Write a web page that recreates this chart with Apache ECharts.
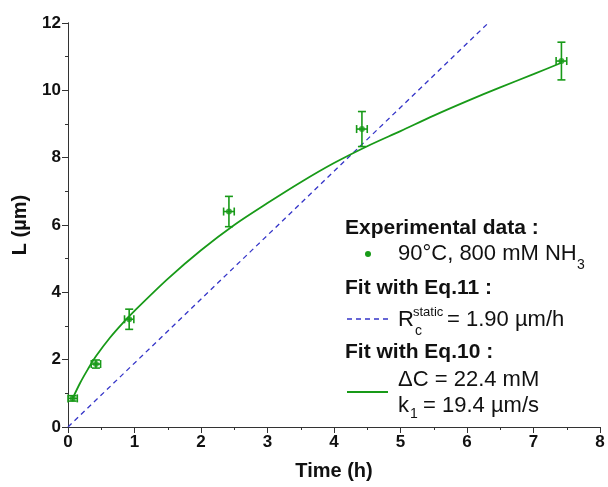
<!DOCTYPE html>
<html>
<head>
<meta charset="utf-8">
<script src="https://cdn.jsdelivr.net/npm/echarts@6/dist/echarts.min.js"></script>
<style>
  html, body { margin: 0; padding: 0; background: #fff; }
  #chart { width: 608px; height: 487px; }
</style>
</head>
<body>
<div id="chart"></div>
<script>
// measured points: time (h), length (um), y error, x error
var expTime = [0.07, 0.42, 0.92, 2.42, 4.42, 7.42];
var expL = [0.85, 1.87, 3.2, 6.4, 8.85, 10.87];
var expErrY = [0.08, 0.12, 0.3, 0.45, 0.52, 0.56];
var expErrX = [0.07, 0.07, 0.07, 0.08, 0.08, 0.08];

// Eq.11 fit (straight line)
var linTime = [0, 6.32];
var linL = [0, 12];

// Eq.10 fit curve
var fitTime = [0.07, 0.18, 0.3, 0.42, 0.63, 0.83, 1.0, 1.5, 2.0, 2.5, 3.0, 3.5, 4.0, 4.5, 5.0, 5.5, 6.0, 6.5, 7.0, 7.42];
var fitL = [0.85, 1.3, 1.72, 2.1, 2.65, 3.1, 3.45, 4.4, 5.25, 6.0, 6.65, 7.27, 7.84, 8.34, 8.79, 9.25, 9.68, 10.09, 10.48, 10.82];

var green = '#189a18';
var blue = '#3535c8';
var font = 'Liberation Sans, Arial, sans-serif';

function pairs(xs, ys) {
  var out = [];
  for (var i = 0; i < xs.length; i++) out.push([xs[i], ys[i]]);
  return out;
}

var errData = [];
for (var i = 0; i < expTime.length; i++) {
  errData.push([expTime[i], expL[i], expErrY[i], expErrX[i]]);
}

// legend text helper (x = left edge, y = vertical centre)
function label(x, y, text, size, bold) {
  return {
    type: 'text', x: x, y: y,
    style: {
      text: text, fontFamily: font, fontSize: size || 22,
      fontWeight: bold ? 'bold' : 'normal', fill: '#111',
      verticalAlign: 'middle'
    }
  };
}

var myChart = echarts.init(document.getElementById('chart'));

var axisLine = { show: true, lineStyle: { color: '#333', width: 1 } };

myChart.setOption({
  animation: false,
  grid: { left: 68, right: 8, top: 23, bottom: 60 },
  xAxis: [{
    type: 'value', min: 0, max: 8, interval: 1,
    name: 'Time (h)', nameLocation: 'middle', nameGap: 34,
    nameTextStyle: { fontFamily: font, fontWeight: 'bold', fontSize: 20, color: '#111' },
    axisLine: axisLine,
    axisTick: { length: 6, lineStyle: { color: '#333' } },
    minorTick: { show: true, splitNumber: 2, length: 3, lineStyle: { color: '#333' } },
    axisLabel: { fontFamily: font, fontWeight: 'bold', fontSize: 17, color: '#111', margin: 7 },
    splitLine: { show: false }
  }, {
    type: 'value', min: 0, max: 8, interval: 1, position: 'top',
    axisLine: axisLine,
    axisTick: { inside: true, length: 6, lineStyle: { color: '#333' } },
    minorTick: { show: true, splitNumber: 2, length: 3, lineStyle: { color: '#333' } },
    axisLabel: { show: false },
    splitLine: { show: false }
  }],
  yAxis: [{
    type: 'value', min: 0, max: 12, interval: 2,
    name: 'L (µm)', nameLocation: 'middle', nameGap: 38,
    nameTextStyle: { fontFamily: font, fontWeight: 'bold', fontSize: 20, color: '#111' },
    axisLine: axisLine,
    axisTick: { length: 6, lineStyle: { color: '#333' } },
    minorTick: { show: true, splitNumber: 2, length: 3, lineStyle: { color: '#333' } },
    axisLabel: { fontFamily: font, fontWeight: 'bold', fontSize: 17, color: '#111', margin: 7 },
    splitLine: { show: false }
  }, {
    type: 'value', min: 0, max: 12, interval: 2, position: 'right',
    axisLine: axisLine,
    axisTick: { inside: true, length: 6, lineStyle: { color: '#333' } },
    minorTick: { show: true, splitNumber: 2, length: 3, lineStyle: { color: '#333' } },
    axisLabel: { show: false },
    splitLine: { show: false }
  }],
  series: [{
    name: 'Eq.11',
    type: 'line',
    data: pairs(linTime, linL),
    showSymbol: false,
    lineStyle: { color: blue, width: 1.3, type: [5, 4] },
    z: 2
  }, {
    name: 'Eq.10',
    type: 'line',
    data: pairs(fitTime, fitL),
    smooth: 0.3,
    showSymbol: false,
    lineStyle: { color: green, width: 1.8 },
    z: 3
  }, {
    name: 'errors',
    type: 'custom',
    data: errData,
    z: 4,
    renderItem: function (params, api) {
      var x = api.value(0), y = api.value(1), ey = api.value(2), ex = api.value(3);
      var top = api.coord([x, y + ey]);
      var bot = api.coord([x, y - ey]);
      var lft = api.coord([x - ex, y]);
      var rgt = api.coord([x + ex, y]);
      var st = { stroke: green, lineWidth: 1.6 };
      var c = 4;
      return {
        type: 'group',
        children: [
          { type: 'line', shape: { x1: top[0], y1: top[1], x2: bot[0], y2: bot[1] }, style: st },
          { type: 'line', shape: { x1: top[0] - c, y1: top[1], x2: top[0] + c, y2: top[1] }, style: st },
          { type: 'line', shape: { x1: bot[0] - c, y1: bot[1], x2: bot[0] + c, y2: bot[1] }, style: st },
          { type: 'line', shape: { x1: lft[0], y1: lft[1], x2: rgt[0], y2: rgt[1] }, style: st },
          { type: 'line', shape: { x1: lft[0], y1: lft[1] - c, x2: lft[0], y2: lft[1] + c }, style: st },
          { type: 'line', shape: { x1: rgt[0], y1: rgt[1] - c, x2: rgt[0], y2: rgt[1] + c }, style: st }
        ]
      };
    }
  }, {
    name: 'data',
    type: 'scatter',
    data: pairs(expTime, expL),
    symbol: 'circle',
    symbolSize: 6,
    itemStyle: { color: green },
    z: 5
  }],
  graphic: [
    label(345, 228, 'Experimental data :', 21, true),
    { type: 'circle', shape: { cx: 368, cy: 254, r: 3 }, style: { fill: green } },
    label(398, 254, '90°C, 800 mM NH'),
    label(577, 265, '3', 14),

    label(345, 288, 'Fit with Eq.11 :', 21, true),
    { type: 'line', shape: { x1: 347, y1: 319, x2: 391, y2: 319 }, style: { stroke: blue, lineWidth: 1.3, lineDash: [5, 4] } },
    label(398, 320, 'R'),
    label(413, 312, 'static', 13),
    label(415, 331, 'c', 14),
    label(447, 320, '= 1.90 µm/h'),

    label(345, 352, 'Fit with Eq.10 :', 21, true),
    { type: 'line', shape: { x1: 347, y1: 392, x2: 388, y2: 392 }, style: { stroke: green, lineWidth: 1.8 } },
    label(398, 380, 'ΔC = 22.4 mM'),
    label(398, 406, 'k'),
    label(410, 414, '1', 14),
    label(423, 406, '= 19.4 µm/s')
  ]
});
</script>
</body>
</html>
